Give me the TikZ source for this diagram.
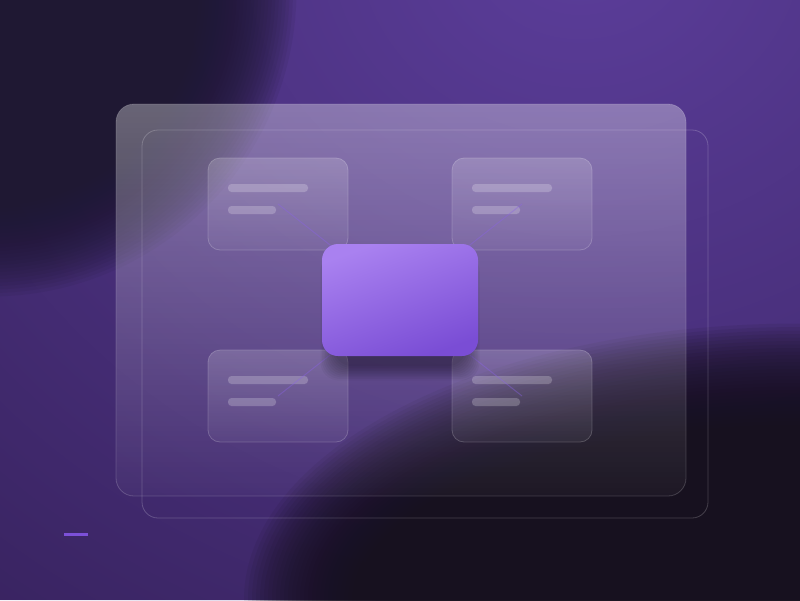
\documentclass[tikz,border=0pt]{standalone}
\usetikzlibrary{fadings,calc}
\definecolor{bandc}{HTML}{38235F}
\definecolor{glowc}{HTML}{5C3E9B}
\definecolor{tlc}{HTML}{1F1833}
\definecolor{brc}{HTML}{17111F}
\definecolor{mainA}{HTML}{A981F0}
\definecolor{mainB}{HTML}{7A4DD5}
\definecolor{linkc}{HTML}{8A62E6}
\definecolor{accentc}{HTML}{7C50D8}
\tikzfading[name=softglow, inner color=transparent!0, outer color=transparent!100]
\tikzfading[name=panelfade, top color=transparent!67, middle color=transparent!91, bottom color=transparent!97]
\tikzfading[name=cardfade, top color=transparent!83, bottom color=transparent!95]
\tikzset{
  panel/.style={rectangle, rounded corners=18pt, inner sep=0pt, outer sep=0pt,
    draw=white, draw opacity=0.18, line width=0.8pt},
  card/.style={rectangle, rounded corners=12pt, inner sep=0pt, outer sep=0pt,
    minimum width=140pt, minimum height=92pt,
    draw=white, draw opacity=0.2, line width=0.8pt,
    preaction={fill=white, path fading=cardfade}},
  bar/.style={fill=white, fill opacity=0.22, rounded corners=3.5pt},
  link/.style={draw=linkc, draw opacity=0.4, line width=1pt},
  maincard/.style={rectangle, rounded corners=16pt, inner sep=0pt, outer sep=0pt,
    minimum width=156pt, minimum height=112pt,
    top color=mainA, bottom color=mainB, shading angle=20},
}
\begin{document}
\begin{tikzpicture}[x=1pt,y=-1pt]
\useasboundingbox (0,0) rectangle (800,600);
% background
\fill[bandc] (0,0) rectangle (800,600);
\fill[glowc, path fading=softglow] (580,-60) ellipse (1000 and 880);
\begin{scope}
\clip (0,0) rectangle (800,600);
\foreach \i in {0,...,39}{
  \fill[tlc, opacity=0.085] (-10,-10) ellipse ({170+3.5*\i} and {170+3.5*\i});
  \fill[brc, opacity=0.085] (800,600) ellipse ({400+4*\i} and {140+3.5*\i});
}
\end{scope}
% big panels
\node[panel, minimum width=570pt, minimum height=392pt,
  preaction={fill=white, path fading=panelfade}] (p1) at (401,300) {};
\node[panel, rounded corners=16pt, minimum width=566pt, minimum height=388pt, draw opacity=0.2] (p2) at (425,324) {};
% cards
\node[card] (tl) at (278,204) {};
\node[card] (tr) at (522,204) {};
\node[card] (bl) at (278,396) {};
\node[card] (br) at (522,396) {};
\foreach \c in {tl,tr,bl,br}{
  \fill[bar] ($(\c.north west)+(20,26)$) rectangle ($(\c.north west)+(100,34)$);
  \fill[bar] ($(\c.north west)+(20,48)$) rectangle ($(\c.north west)+(68,56)$);
}
% links
\coordinate (hub) at (400,300);
\foreach \c in {tl,tr,bl,br}{
  \draw[link] (\c.center) -- (hub);
}
% shadow of main card
\foreach \i in {0,...,9}{
  \fill[black, opacity=0.04, rounded corners=18pt] (334-\i*1.5,262-\i) rectangle (466+\i*1.5,366+\i*1.6);
}
\node[maincard] (main) at (hub) {};
% accent
\draw[accentc, line width=3pt] (64,534) -- (88,534);
\end{tikzpicture}
\end{document}
